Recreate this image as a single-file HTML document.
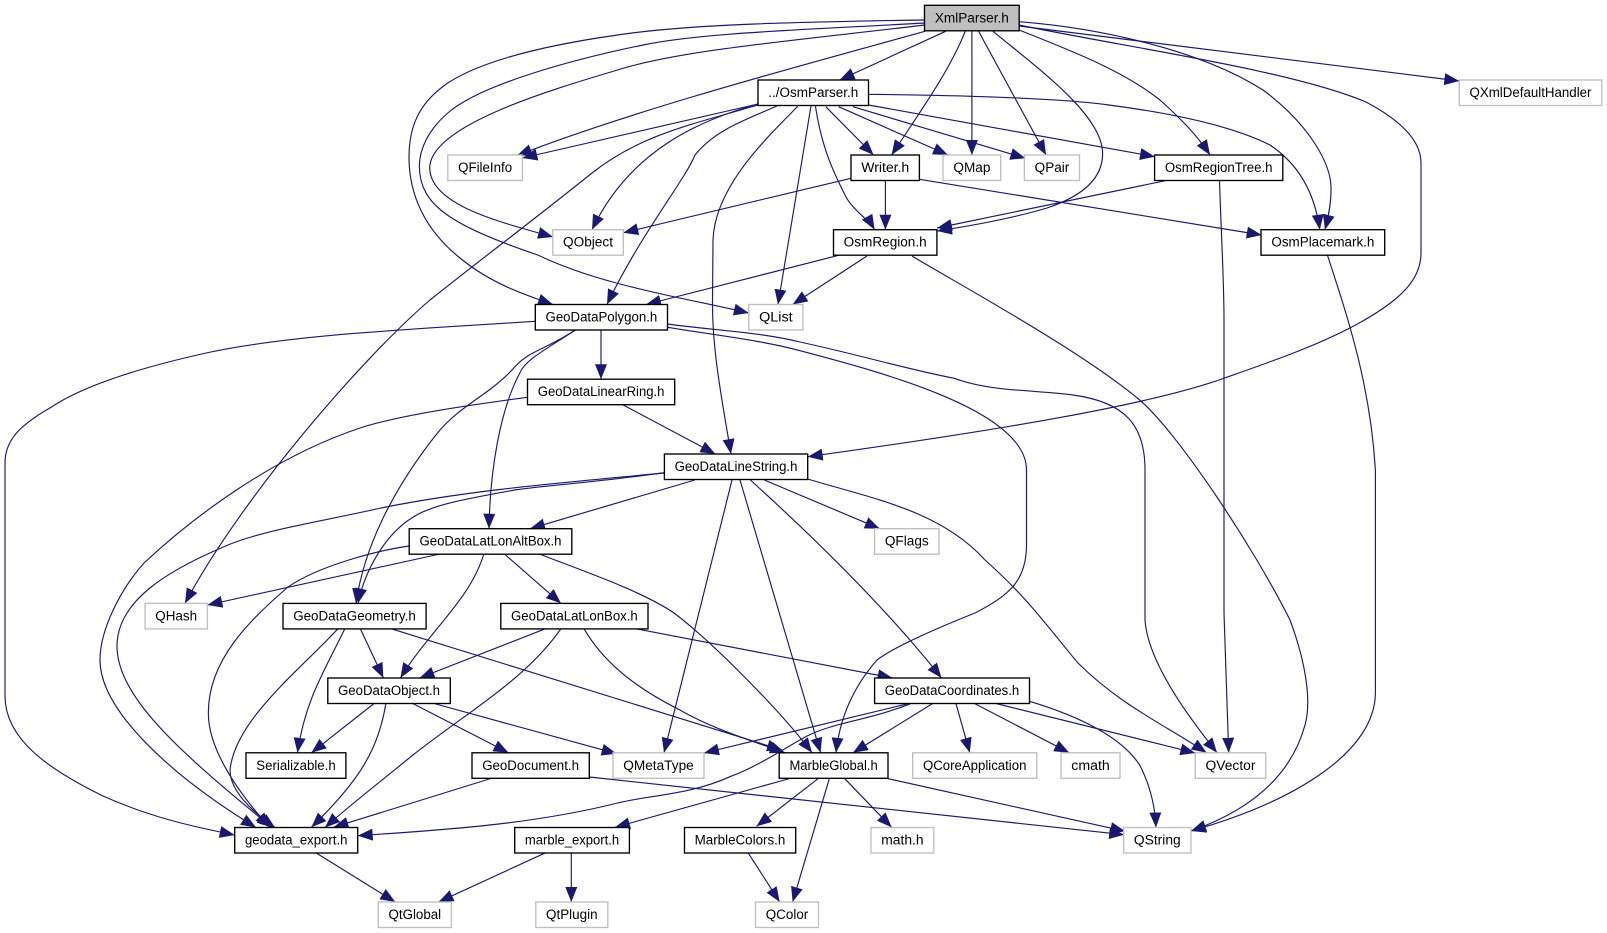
<!DOCTYPE html>
<html><head><meta charset="utf-8"><title>XmlParser.h</title>
<style>html,body{margin:0;padding:0;background:#fff}svg{display:block}
text{font-family:"Liberation Sans",Arial,sans-serif;font-size:13.4px;text-anchor:middle;fill:#000}
.e path{fill:none;stroke:#191970;stroke-width:1.15;marker-end:url(#a)}
.n rect{fill:#fff;stroke:#000;stroke-width:1.35}
.g rect{fill:#fff;stroke:#bfbfbf;stroke-width:1.35}
</style></head><body>
<svg xmlns="http://www.w3.org/2000/svg" width="1607" height="933" viewBox="0 0 1607 933">
<defs><marker id="a" markerUnits="userSpaceOnUse" markerWidth="15" markerHeight="12" refX="15" refY="6" orient="auto"><path d="M0,0L15,6L0,12Z" fill="#191970"/></marker></defs>
<g class="e">
<path d="M945.6,31.3L839.6,80"/>
<path d="M965.2,31.3C950,70 920,112 891.6,155"/>
<path d="M971.9,31.3L971.9,155"/>
<path d="M978.6,31.3L1046,155"/>
<path d="M993,31.3C1040,70 1102,115 1102.6,153C1103,180 1080,197 1047,208C1010,219 970,226 937,231"/>
<path d="M1019,30C1075,52 1125,72 1160,100C1180,118 1197,135 1210,155"/>
<path d="M1019,21.7C1100,28 1200,50 1263,90C1310,125 1332,165 1331,190C1331,205 1328,218 1325,229.7"/>
<path d="M1019,25C1130,48 1290,70 1366,102C1400,120 1421,140 1421,163L1421,253C1421,280 1400,300 1361,322C1320,345 1270,362 1224.6,378C1150,405 1000,430 807.7,456.7"/>
<path d="M1019,26L1459.3,81"/>
<path d="M925,31.3C800,66 640,108 517,155.5"/>
<path d="M925,25C800,40 680,50 617.6,70C550,90 432,125 429.7,167C429,205 500,222 553,237"/>
<path d="M925,23C800,30 700,33 643,45C570,60 480,85 447.8,113C428,130 419,150 419.4,167C420,205 450,225 537.8,255C600,285 680,297 748.8,313"/>
<path d="M925,20C800,22 690,24 617.6,35C540,46 480,62 447.8,83C420,102 409,125 409,157C409,195 425,230 460,258C490,283 525,295 553,304.5"/>
<path d="M758,104L522.4,158"/>
<path d="M758,104C700,120 630,150 592,229.7"/>
<path d="M758,105C690,125 640,135 592,173C540,215 480,260 430,300C360,360 240,500 185,603.4"/>
<path d="M777,106C745,120 715,130 695,155C685,180 640,235 607,304.5"/>
<path d="M798,106C770,135 715,185 713,240L712.5,300C712,350 722,400 731,454"/>
<path d="M811,106L778,304.5"/>
<path d="M815.4,106C822,150 835,175 846,197C853,210 869,220 874.6,229.7"/>
<path d="M825.7,106.7L873.6,155"/>
<path d="M838.6,106.7L948,155"/>
<path d="M853,106.7L1025.4,158.3"/>
<path d="M868.5,105L1155,156.7"/>
<path d="M868.5,94.3C950,95 1060,98 1108.8,105C1170,113 1230,125 1270,145C1300,165 1315,195 1319.8,229.7"/>
<path d="M851,178.3L623.3,232.7"/>
<path d="M885.4,180.5L885.4,229.7"/>
<path d="M919.4,179.3L1261.7,235"/>
<path d="M1165.4,180.7L937,228"/>
<path d="M1219.5,180.7C1221,230 1224,280 1224,320L1224,613L1228.7,752.8"/>
<path d="M1327.5,255.3C1345,310 1370,380 1375.4,470L1375.4,693C1375,750 1300,800 1191,831"/>
<path d="M838.6,255.3L646,304.5"/>
<path d="M867,256L792.6,304.5"/>
<path d="M912,256C960,285 1080,350 1139.7,400C1180,435 1255,550 1290,620C1305,660 1312,700 1305,725C1290,780 1245,812 1191,831"/>
<path d="M535.3,321.3C400,330 290,335 206,353C130,370 80,388 51.5,407C20,425 5,440 5,463L5,696C5,740 50,770 103,796C150,817 190,826 234.7,835"/>
<path d="M575.4,330C545,350 530,350 514.7,367C490,395 460,405 437.5,433C400,480 365,540 356,603.4"/>
<path d="M575.4,330C545,350 525,360 519.8,373C500,410 490,470 489,528.7"/>
<path d="M601,330L601,379.2"/>
<path d="M667.5,327.3C715,335 760,340 800,350.7C880,372 1026.5,410 1026.5,470L1026.5,545C1026.5,580 1010,595 975,613C920,635 890,650 877,660C855,685 840,715 836,752.8"/>
<path d="M667.5,324C710,330 760,332 800,342C860,355 910,370 954.4,378.3C990,392 1040,390 1072.8,395C1125,402 1145,425 1145,470L1145,620C1148,665 1195,725 1217,752.8"/>
<path d="M622.7,404.7L715.4,454"/>
<path d="M527.5,397.3C470,405 400,415 360,428C270,458 190,520 144,563C120,590 100,630 100,660C100,710 170,775 256,827.5"/>
<path d="M664,473C560,483 470,490 381,508C320,522 260,530 221,548C170,570 117,600 117,646C117,700 190,760 272,827.5"/>
<path d="M664,472.7C600,482 550,485 514.7,490C470,498 430,505 411.7,518C385,535 365,570 358,603.4"/>
<path d="M694.8,480L530,528.7"/>
<path d="M732,480L664,752.8"/>
<path d="M740,480L820.6,752.8"/>
<path d="M750.4,480C800,525 880,600 941.5,678"/>
<path d="M764.3,480L879.8,528.7"/>
<path d="M807.7,479C870,498 940,510 985,560C1030,600 1050,630 1078,663C1120,705 1165,725 1206.6,752.8"/>
<path d="M440,554L207.4,605"/>
<path d="M409.2,546C380,550 320,565 288,587C250,620 208,660 208.4,713C208,750 240,795 270,827.5"/>
<path d="M483.8,554C470,600 430,630 400.4,678"/>
<path d="M504.4,554L561,603.4"/>
<path d="M539.4,554C580,570 640,590 674,613C710,640 780,710 812,752.8"/>
<path d="M545.5,628.7L419.5,678"/>
<path d="M561,628.7C525,680 470,710 411.7,756C380,782 350,805 325,827.5"/>
<path d="M584,628.7C605,665 640,690 679.4,709.7C715,730 750,740 785,752.8"/>
<path d="M635.6,628.7L892.6,678"/>
<path d="M338,628.7C300,670 235,720 230,770C230,790 250,810 275,827.5"/>
<path d="M344.8,628.7C325,670 305,700 297.5,752.8"/>
<path d="M360.3,628.7L383.4,678"/>
<path d="M391,628.7L782,750"/>
<path d="M374.7,703L311.4,752.8"/>
<path d="M386,703C378,750 360,780 311.4,827.3"/>
<path d="M411.7,703L508.5,752.8"/>
<path d="M432.3,703L616.6,753.7"/>
<path d="M492.5,778L333.5,827.3"/>
<path d="M589.3,777L1124.2,834.7"/>
<path d="M908,703.7L704,753"/>
<path d="M910.6,703.7C870,720 835,722 807,736C785,748 755,768 730.8,776.3C690,795 650,795 617.6,803C530,825 440,830 357.7,835.7"/>
<path d="M932.3,703.7L853,752.8"/>
<path d="M956,703.7L969.8,752.8"/>
<path d="M975,703.7L1069.2,752.8"/>
<path d="M996.6,703.7L1195.3,753"/>
<path d="M1029.5,701.3C1075,715 1120,735 1139.7,765C1150,785 1155,805 1156,827.5"/>
<path d="M791.5,778L615,827.3"/>
<path d="M818,778.7L756.6,826.3"/>
<path d="M829.3,778.7L792.6,902"/>
<path d="M844.8,778.7L891.6,827.3"/>
<path d="M885,778L1125.3,831.3"/>
<path d="M315,852.3L395.3,902"/>
<path d="M546.6,852.3L438.5,902"/>
<path d="M571.3,852.3L571.3,902"/>
<path d="M747.8,852.3L779.7,902"/>
</g>
<g class="n"><rect x="924.5" y="5.3" width="94.7" height="25.5" style="fill:#bfbfbf"/></g>
<g class="n">
<rect x="758" y="80" width="110.5" height="25.5"/>
<rect x="851" y="155" width="68.4" height="25.5"/>
<rect x="1154.6" y="155" width="128.2" height="25.5"/>
<rect x="833.5" y="229.7" width="103.4" height="25.5"/>
<rect x="1261" y="229.7" width="123.7" height="25.5"/>
<rect x="535.3" y="304.5" width="132.2" height="25.5"/>
<rect x="527.5" y="379.2" width="147.2" height="25.5"/>
<rect x="664.4" y="454" width="143.3" height="25.5"/>
<rect x="409.2" y="528.7" width="162.6" height="25.5"/>
<rect x="283" y="603.4" width="143.1" height="25.5"/>
<rect x="500.8" y="603.4" width="147.2" height="25.5"/>
<rect x="327.8" y="678" width="122.5" height="25.5"/>
<rect x="874.6" y="678" width="154.9" height="25.5"/>
<rect x="246" y="752.8" width="99.9" height="25.5"/>
<rect x="472" y="752.8" width="117.3" height="25.5"/>
<rect x="779.2" y="752.8" width="108.8" height="25.5"/>
<rect x="234.7" y="827.5" width="123" height="25.5"/>
<rect x="514.7" y="827.5" width="114.7" height="25.5"/>
<rect x="684.5" y="827.5" width="111.2" height="25.5"/>
</g>
<g class="g">
<rect x="1459.3" y="80" width="142.5" height="25.5"/>
<rect x="447.8" y="155" width="74.6" height="25.5"/>
<rect x="943" y="155" width="57.7" height="25.5"/>
<rect x="1024.4" y="155" width="55.1" height="25.5"/>
<rect x="552.8" y="229.7" width="70.5" height="25.5"/>
<rect x="748.8" y="304.5" width="54.1" height="25.5"/>
<rect x="874.6" y="528.7" width="64.4" height="25.5"/>
<rect x="145.1" y="603.4" width="62.3" height="25.5"/>
<rect x="613" y="752.8" width="91" height="25.5"/>
<rect x="912.7" y="752.8" width="124" height="25.5"/>
<rect x="1061" y="752.8" width="59" height="25.5"/>
<rect x="1195.3" y="752.8" width="70.5" height="25.5"/>
<rect x="871" y="827.5" width="62.8" height="25.5"/>
<rect x="1123.7" y="827.5" width="67.3" height="25.5"/>
<rect x="378.3" y="902" width="73.1" height="25.5"/>
<rect x="535.8" y="902" width="72" height="25.5"/>
<rect x="755.5" y="902" width="63" height="25.5"/>
</g>
<g>
<text x="971.85" y="22.3" textLength="74" lengthAdjust="spacingAndGlyphs">XmlParser.h</text>
<text x="813.25" y="97" textLength="90" lengthAdjust="spacingAndGlyphs">../OsmParser.h</text>
<text x="1530.5" y="97" textLength="122" lengthAdjust="spacingAndGlyphs">QXmlDefaultHandler</text>
<text x="485.1" y="172" textLength="54" lengthAdjust="spacingAndGlyphs">QFileInfo</text>
<text x="885.2" y="172" textLength="47.9" lengthAdjust="spacingAndGlyphs">Writer.h</text>
<text x="971.9" y="172" textLength="37" lengthAdjust="spacingAndGlyphs">QMap</text>
<text x="1052" y="172" textLength="34.6" lengthAdjust="spacingAndGlyphs">QPair</text>
<text x="1218.7" y="172" textLength="107.7" lengthAdjust="spacingAndGlyphs">OsmRegionTree.h</text>
<text x="588" y="246.7" textLength="50" lengthAdjust="spacingAndGlyphs">QObject</text>
<text x="885.2" y="246.7" textLength="83" lengthAdjust="spacingAndGlyphs">OsmRegion.h</text>
<text x="1322.9" y="246.7" textLength="103" lengthAdjust="spacingAndGlyphs">OsmPlacemark.h</text>
<text x="601.4" y="321.5" textLength="111.7" lengthAdjust="spacingAndGlyphs">GeoDataPolygon.h</text>
<text x="775.9" y="321.5" textLength="33.6" lengthAdjust="spacingAndGlyphs">QList</text>
<text x="601.1" y="396.2" textLength="126.7" lengthAdjust="spacingAndGlyphs">GeoDataLinearRing.h</text>
<text x="736" y="471" textLength="122.8" lengthAdjust="spacingAndGlyphs">GeoDataLineString.h</text>
<text x="490.5" y="545.7" textLength="142" lengthAdjust="spacingAndGlyphs">GeoDataLatLonAltBox.h</text>
<text x="906.8" y="545.7" textLength="43.9" lengthAdjust="spacingAndGlyphs">QFlags</text>
<text x="176.2" y="620.4" textLength="41.8" lengthAdjust="spacingAndGlyphs">QHash</text>
<text x="354.5" y="620.4" textLength="122.6" lengthAdjust="spacingAndGlyphs">GeoDataGeometry.h</text>
<text x="574.4" y="620.4" textLength="126.7" lengthAdjust="spacingAndGlyphs">GeoDataLatLonBox.h</text>
<text x="389" y="695" textLength="102" lengthAdjust="spacingAndGlyphs">GeoDataObject.h</text>
<text x="952" y="695" textLength="134.4" lengthAdjust="spacingAndGlyphs">GeoDataCoordinates.h</text>
<text x="296" y="769.8" textLength="79.4" lengthAdjust="spacingAndGlyphs">Serializable.h</text>
<text x="530.6" y="769.8" textLength="96.8" lengthAdjust="spacingAndGlyphs">GeoDocument.h</text>
<text x="658.5" y="769.8" textLength="70.5" lengthAdjust="spacingAndGlyphs">QMetaType</text>
<text x="833.6" y="769.8" textLength="88.3" lengthAdjust="spacingAndGlyphs">MarbleGlobal.h</text>
<text x="974.7" y="769.8" textLength="103.5" lengthAdjust="spacingAndGlyphs">QCoreApplication</text>
<text x="1090.5" y="769.8" textLength="38.5" lengthAdjust="spacingAndGlyphs">cmath</text>
<text x="1230.5" y="769.8" textLength="50" lengthAdjust="spacingAndGlyphs">QVector</text>
<text x="296.2" y="844.5" textLength="102.5" lengthAdjust="spacingAndGlyphs">geodata_export.h</text>
<text x="572" y="844.5" textLength="94.2" lengthAdjust="spacingAndGlyphs">marble_export.h</text>
<text x="740" y="844.5" textLength="90.7" lengthAdjust="spacingAndGlyphs">MarbleColors.h</text>
<text x="902.4" y="844.5" textLength="42.3" lengthAdjust="spacingAndGlyphs">math.h</text>
<text x="1157.3" y="844.5" textLength="46.8" lengthAdjust="spacingAndGlyphs">QString</text>
<text x="414.8" y="919" textLength="52.6" lengthAdjust="spacingAndGlyphs">QtGlobal</text>
<text x="571.8" y="919" textLength="51.5" lengthAdjust="spacingAndGlyphs">QtPlugin</text>
<text x="787" y="919" textLength="42.5" lengthAdjust="spacingAndGlyphs">QColor</text>
</g>
</svg>
</body></html>
